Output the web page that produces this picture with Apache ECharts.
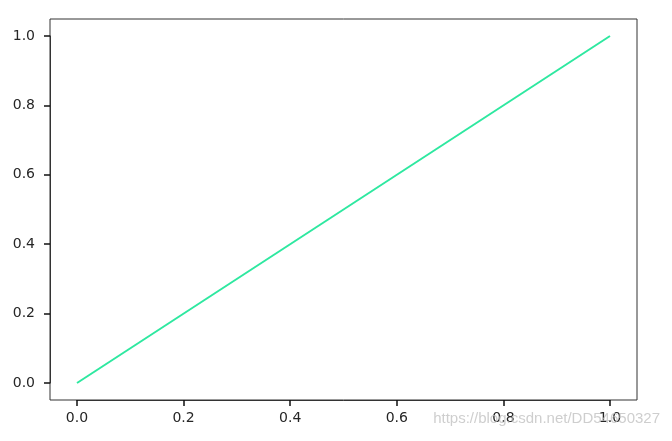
<!DOCTYPE html>
<html>
<head>
<meta charset="utf-8">
<script src="https://cdn.jsdelivr.net/npm/echarts@6/dist/echarts.min.js"></script>
<style>
    html, body { margin: 0; padding: 0; background: #fff; }
    #chart { width: 672px; height: 441px; }
</style>
</head>
<body>
<div id="chart"></div>
<script>
// data
var xValues = [0.0, 1.0];
var yValues = [0.0, 1.0];
var tickStep = 0.2;

var points = xValues.map(function(x, i) {
    return [x, yValues[i]];
});

var myChart = echarts.init(document.getElementById('chart'));

var labelStyle = {
    color: '#262626',
    fontFamily: 'DejaVu Sans',
    fontSize: 14,
    formatter: function(v) { return v.toFixed(1); }
};

// axes box drawn by grid 0, data area (0..1) is grid 1, 5% inset like matplotlib
function tickAxis(offset, margin) {
    return {
        type: 'value',
        gridIndex: 1,
        min: 0,
        max: 1,
        interval: tickStep,
        offset: offset,
        splitLine: { show: false },
        axisLine: { show: true, onZero: false, lineStyle: { color: '#333', width: 1 } },
        axisTick: { show: true, length: 6, lineStyle: { color: '#111', width: 1.5 } },
        axisLabel: Object.assign({}, labelStyle, { margin: margin })
    };
}

function hiddenAxis() {
    return { type: 'value', gridIndex: 0, min: 0, max: 1, show: false };
}

var option = {
    animation: false,
    grid: [{
        left: 50, right: 35, top: 19, bottom: 41,
        show: true,
        borderColor: '#333',
        borderWidth: 1
    }, {
        left: 77, right: 62, top: 36, bottom: 58
    }],
    xAxis: [hiddenAxis(), tickAxis(17, 11)],
    yAxis: [hiddenAxis(), tickAxis(27, 15)],
    series: [{
        type: 'line',
        xAxisIndex: 1,
        yAxisIndex: 1,
        data: points,
        symbol: 'none',
        lineStyle: { color: '#2ee8a0', width: 2 }
    }],
    graphic: [{
        type: 'text',
        right: 12,
        top: 411,
        z: 100,
        style: {
            text: 'https://blog.csdn.net/DD54650327',
            fill: 'rgba(190,190,190,0.75)',
            font: '15px "Liberation Sans", Arial, sans-serif'
        }
    }]
};

myChart.setOption(option);
</script>
</body>
</html>
